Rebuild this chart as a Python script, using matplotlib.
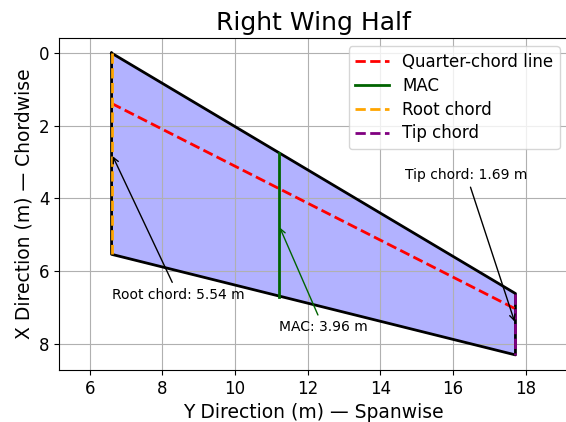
import numpy as np
import matplotlib
matplotlib.use("Agg")
import matplotlib.pyplot as plt

# wing geometry (m)
root_y = 6.6
tip_y = 17.72
root_chord = 5.54
tip_chord = 1.69
tip_le = 6.62
mac_y = 11.2
mac_le = 2.75
mac_chord = 3.96

# outline of the half wing
le_x = [0.0, tip_le]
te_x = [root_chord, tip_le + tip_chord]
span_y = [root_y, tip_y]

fig = plt.figure(figsize=(5.66, 4.22), dpi=100)
ax = fig.add_axes([59 / 566, 52 / 422, 509 / 566, 332 / 422])

# filled planform
poly_y = [root_y, tip_y, tip_y, root_y]
poly_x = [le_x[0], le_x[1], te_x[1], te_x[0]]
ax.fill(poly_y, poly_x, color='blue', alpha=0.3)
ax.plot(poly_y + [poly_y[0]], poly_x + [poly_x[0]], 'k-', linewidth=2)

# quarter chord line
qc_x = [le_x[0] + 0.25 * root_chord, le_x[1] + 0.25 * tip_chord]
ax.plot(span_y, qc_x, 'r--', linewidth=2, label='Quarter-chord line')

# MAC
ax.plot([mac_y, mac_y], [mac_le, mac_le + mac_chord], color='darkgreen',
        linewidth=2, label='MAC')

# root and tip chords
ax.plot([root_y, root_y], [le_x[0], te_x[0]], '--', color='orange',
        linewidth=2, label='Root chord')
ax.plot([tip_y, tip_y], [le_x[1], te_x[1]], '--', color='purple',
        linewidth=2, label='Tip chord')

# annotations
ax.annotate(f'Root chord: {root_chord:.2f} m',
            xy=(root_y, root_chord / 2), xytext=(8.43, 6.65),
            ha='center', va='center', fontsize=10,
            arrowprops=dict(arrowstyle='->', color='black'))
ax.annotate(f'MAC: {mac_chord:.2f} m',
            xy=(mac_y, mac_le + mac_chord / 2), xytext=(12.43, 7.55),
            ha='center', va='center', fontsize=10,
            arrowprops=dict(arrowstyle='->', color='darkgreen'))
ax.annotate(f'Tip chord: {tip_chord:.2f} m',
            xy=(tip_y, tip_le + tip_chord / 2), xytext=(16.37, 3.35),
            ha='center', va='center', fontsize=10,
            arrowprops=dict(arrowstyle='->', color='black'))

ax.set_title('Right Wing Half', fontsize=18)
ax.set_xlabel('Y Direction (m) — Spanwise', fontsize=13.5)
ax.set_ylabel('X Direction (m) — Chordwise', fontsize=13.5)
ax.tick_params(labelsize=12)
ax.axis('equal')
ax.invert_yaxis()
ax.grid(True)
ax.legend(fontsize=12, loc='upper right', labelspacing=0.35)

fig.savefig('out.png', dpi=100)
